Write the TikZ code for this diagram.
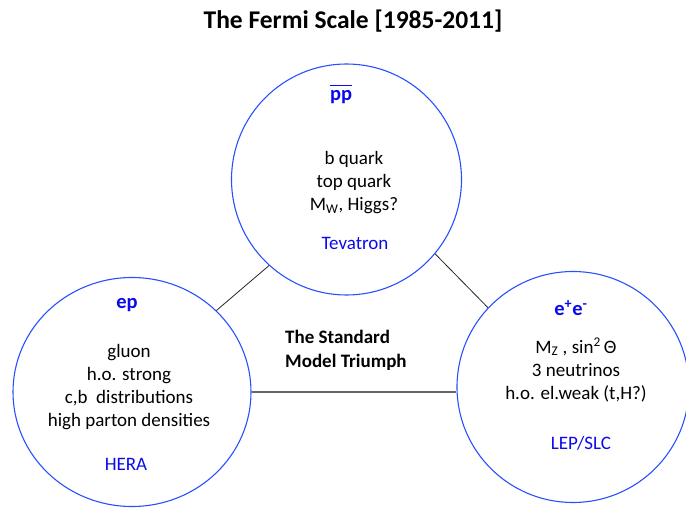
\documentclass[tikz,border=0pt]{standalone}
\usepackage{fontspec}
\setmainfont{Carlito}
\usetikzlibrary{shapes.geometric}

\definecolor{ringblue}{RGB}{40,80,255}
\definecolor{labelblue}{RGB}{10,10,235}

\tikzset{
  ring/.style={draw=ringblue, line width=1.1pt, ellipse, inner sep=0pt},
  head/.style={text=labelblue, font=\fontsize{20.5}{24}\selectfont\bfseries, inner sep=0pt},
  body/.style={align=center, font=\fontsize{19}{23}\selectfont, inner sep=0pt},
  site/.style={text=labelblue, font=\fontsize{19}{23}\selectfont, inner sep=0pt},
  link/.style={draw=black!85, line width=0.8pt}
}

\begin{document}
\begin{tikzpicture}[x=1pt, y=-1pt]
\useasboundingbox (0,0) rectangle (686,508);

\node[font=\fontsize{25.5}{30}\selectfont\bfseries] (title) at (353,21) {The Fermi Scale [1985-2011]};

% the three colliders
\node[ring, minimum width=230pt, minimum height=231pt] (pp) at (346.5,179.5) {};
\node[ring, minimum width=238pt, minimum height=229pt] (ep) at (132,392) {};
\node[ring, minimum width=232pt, minimum height=231pt] (ee) at (573,387) {};

\node[head] (pph) at (341,94) {$\overline{\hbox{\vphantom{T}pp}}$};
\node[body] (ppb) at (354,183) {b quark\\top quark\\M\textsubscript{W}, Higgs?};
\node[site] (pps) at (355,243) {Tevatron};

\node[head] (eph) at (127,305) {ep};
\node[body] (epb) at (129,387) {gluon\\h.o. strong\\c,b\ \ distributions\\high parton densities};
\node[site] (eps) at (126,464) {HERA};

\node[head] (eeh) at (571,308) {e\textsuperscript{+}e\textsuperscript{-}};
\node[body] (eeb) at (576,370) {M\textsubscript{Z} , sin\textsuperscript{2}\,Θ\\3 neutrinos\\h.o. el.weak (t,H?)};
\node[site] (ees) at (581,443) {LEP/SLC};

\node[anchor=west, align=left, inner sep=0pt, font=\fontsize{19}{24}\selectfont\bfseries] (sm) at (285,350) {The Standard\\Model Triumph};

\draw[link] (pp.228) -- (ep.44);
\draw[link] (pp.320) -- (ee.137);
\draw[link, draw=black!60, line width=1.2pt] (ep.east) -- (ep.east -| ee.west);
\end{tikzpicture}
\end{document}
